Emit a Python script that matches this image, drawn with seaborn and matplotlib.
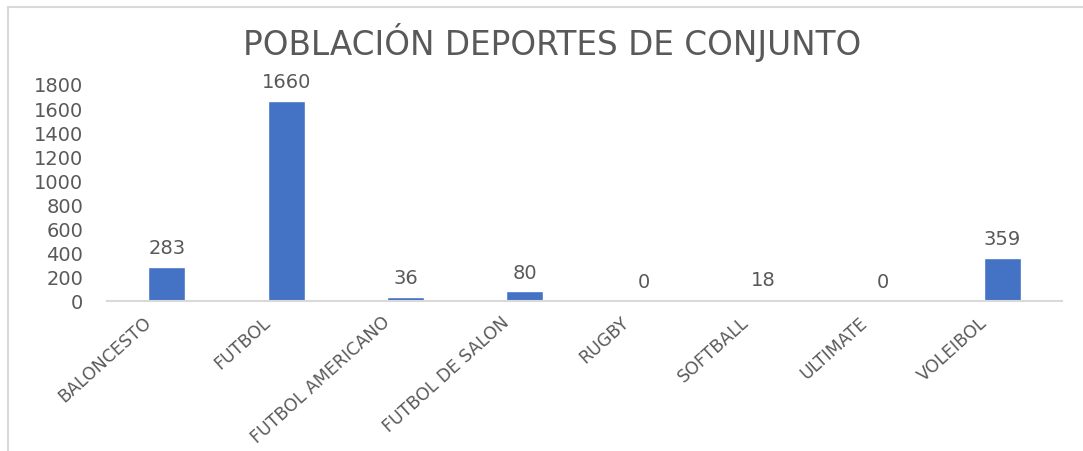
import numpy as np
import pandas as pd
import matplotlib
matplotlib.use("Agg")
import matplotlib.pyplot as plt
import matplotlib.transforms as mtransforms
import seaborn as sns
from matplotlib.lines import Line2D

# data
deportes = ["BALONCESTO", "FUTBOL", "FUTBOL AMERICANO", "FUTBOL DE SALON",
            "RUGBY", "SOFTBALL", "ULTIMATE", "VOLEIBOL"]
poblacion = [283, 1660, 36, 80, 0, 18, 0, 359]
y_ticks = [0, 200, 400, 600, 800, 1000, 1200, 1400, 1600, 1800]

sns.set_style("white")
plt.rcParams["font.family"] = ["DejaVu Sans"]

text_color = "#595959"
bar_color = "#4472C4"

df = pd.DataFrame({"deporte": deportes, "poblacion": poblacion})

fig = plt.figure(figsize=(10.83, 4.52), dpi=100)
ax = fig.add_axes([0.0988, 0.332, 0.882, 0.48])

sns.barplot(data=df, x="deporte", y="poblacion", color=bar_color,
            width=0.31, saturation=1, ax=ax)

# value labels on top of bars
for container in ax.containers:
    ax.bar_label(container, labels=[str(v) for v in poblacion], padding=7,
                 fontsize=14, color=text_color)

ax.set_ylim(0, 1800)
ax.set_yticks(y_ticks)
ax.set_xlim(-0.5, len(deportes) - 0.5)
ax.set_xlabel("")
ax.set_ylabel("")
ax.tick_params(axis="y", labelsize=14, labelcolor=text_color, length=0, pad=17)
ax.tick_params(axis="x", labelsize=12.5, labelcolor=text_color, length=0, pad=4)

# rotated labels, shifted so their top end sits left of the tick
offset = mtransforms.ScaledTranslation(-24 / 100, -6 / 100, fig.dpi_scale_trans)
for lbl in ax.get_xticklabels():
    lbl.set_rotation(42)
    lbl.set_ha("right")
    lbl.set_rotation_mode("anchor")
    lbl.set_transform(lbl.get_transform() + offset)

# only the baseline stays
for side in ["top", "right", "left"]:
    ax.spines[side].set_visible(False)
ax.spines["bottom"].set_color("#D9D9D9")
ax.spines["bottom"].set_linewidth(1.5)

fig.suptitle("POBLACIÓN DEPORTES DE CONJUNTO", fontsize=23.5, color=text_color,
             x=0.51, y=0.95)

# light chart frame (left and top edges)
fig.add_artist(Line2D([8 / 1083, 8 / 1083], [0, 1 - 8 / 452],
                      transform=fig.transFigure, color="#D9D9D9", lw=1.5))
fig.add_artist(Line2D([8 / 1083, 1], [1 - 8 / 452, 1 - 8 / 452],
                      transform=fig.transFigure, color="#D9D9D9", lw=1.5))

fig.savefig("out.png", dpi=100)
